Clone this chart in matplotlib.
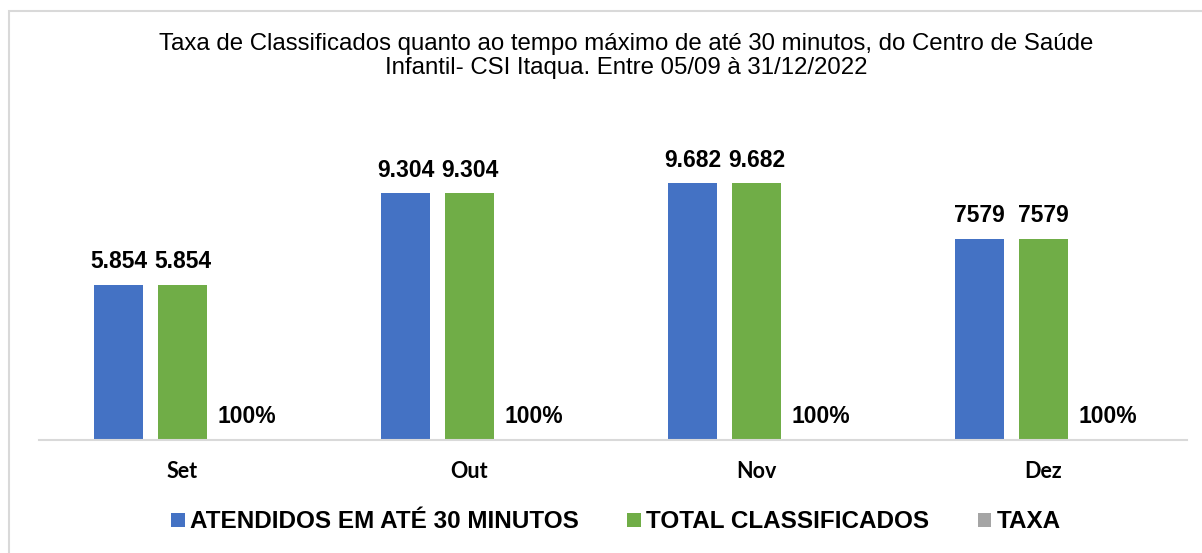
import numpy as np
import matplotlib.pyplot as plt
from matplotlib.patches import Rectangle, Patch

# data
months = ["Set", "Out", "Nov", "Dez"]
atendidos = [5854, 9304, 9682, 7579]
total_classificados = [5854, 9304, 9682, 7579]
taxa = [1.0, 1.0, 1.0, 1.0]
value_labels = ["5.854", "9.304", "9.682", "7579"]

series_names = ["ATENDIDOS EM ATÉ 30 MINUTOS", "TOTAL CLASSIFICADOS", "TAXA"]
colors = ["#4472C4", "#70AD47", "#A5A5A5"]

plt.rcParams["font.family"] = ["Liberation Sans", "DejaVu Sans"]

fig = plt.figure(figsize=(12.02, 5.53), dpi=100)
ax = fig.add_axes([39 / 1202, 113 / 553, 1148 / 1202, 318 / 553])

x = np.arange(len(months))
w = 0.174
step = 0.223

b1 = ax.bar(x - step, atendidos, w, color=colors[0])
b2 = ax.bar(x, total_classificados, w, color=colors[1])
b3 = ax.bar(x + step, taxa, w, color=colors[2])

for bars, labels in [(b1, value_labels), (b2, value_labels),
                     (b3, [f"{t:.0%}" for t in taxa])]:
    for rect, lab in zip(bars, labels):
        ax.annotate(lab, (rect.get_x() + rect.get_width() / 2, rect.get_height()),
                    xytext=(0, 12), textcoords="offset points",
                    ha="center", va="baseline", fontsize=16.5, fontweight="bold")

ax.set_xlim(-0.5, len(months) - 0.5)
ax.set_ylim(0, 12000)
ax.set_yticks([])
ax.set_xticks(x)
ax.set_xticklabels(months, fontfamily=["Lato", "DejaVu Sans"], fontweight="bold", fontsize=15.5)
ax.tick_params(axis="x", length=0, pad=15)
for s in ["top", "right", "left"]:
    ax.spines[s].set_visible(False)
ax.spines["bottom"].set_color("#D9D9D9")
ax.spines["bottom"].set_linewidth(1.5)

fig.text(626 / 1202, 1 - 56 / 553,
         "Taxa de Classificados quanto ao tempo máximo de até 30 minutos, do Centro de Saúde\n"
         "Infantil- CSI Itaqua. Entre 05/09 à 31/12/2022",
         ha="center", va="center", fontsize=17.3, linespacing=1.12)

handles = [Patch(facecolor=c, label=n) for c, n in zip(colors, series_names)]
fig.legend(handles=handles, loc="center", bbox_to_anchor=(616 / 1202, 31 / 553),
           ncol=3, frameon=False, prop={"weight": "bold", "size": 17.5},
           handlelength=0.55, handleheight=0.55, handletextpad=0.22, columnspacing=2.0)

# outer chart border
fig.patches.append(Rectangle((8.5 / 1202, -0.05), 1.1, 1 - 10.5 / 553 + 0.05,
                             transform=fig.transFigure, fill=False,
                             edgecolor="#D9D9D9", linewidth=1.5))

fig.savefig("out.png", dpi=100, facecolor="white")
